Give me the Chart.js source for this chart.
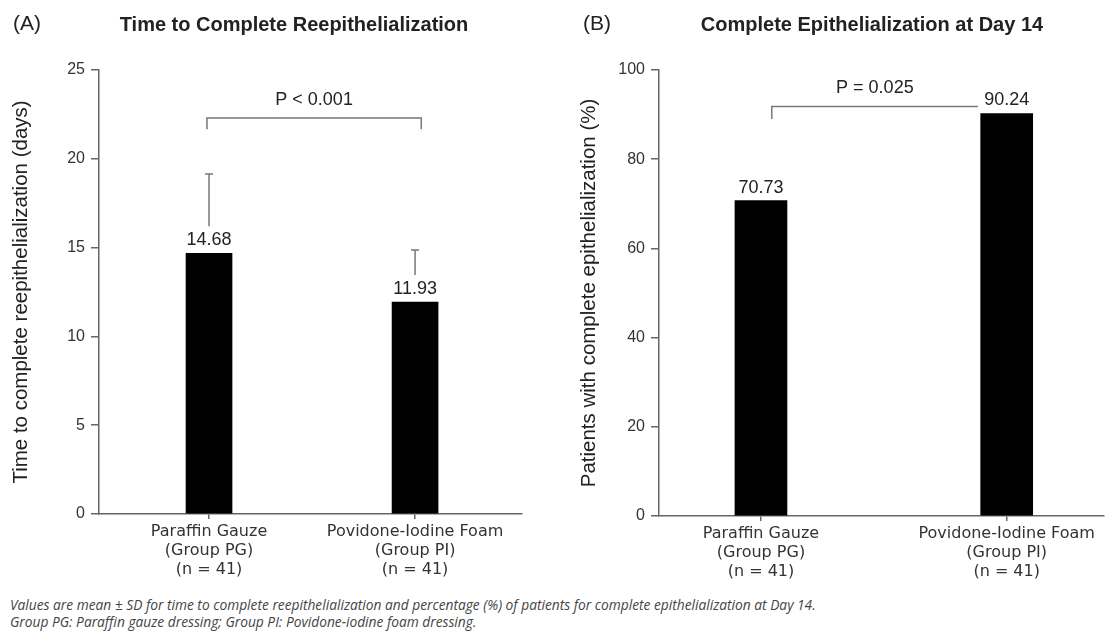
<!DOCTYPE html>
<html>
<head>
<meta charset="utf-8">
<script src="https://cdn.jsdelivr.net/npm/chart.js@4.4.1/dist/chart.umd.min.js"></script>
<style>
  html, body { margin: 0; padding: 0; background: #fff; }
  #wrap { position: relative; width: 1106px; height: 637px; overflow: hidden; }
  .panel { position: absolute; top: 0; width: 553px; height: 590px; }
  #note { position: absolute; left: 10px; top: 596px; font: italic 13.75px 'Open Sans'; line-height: 17px; color: #444; white-space: nowrap; }
</style>
</head>
<body>
<div id="wrap">
  <div class="panel" style="left:0"><canvas id="chartA" width="553" height="590"></canvas></div>
  <div class="panel" style="left:553px"><canvas id="chartB" width="553" height="590"></canvas></div>
  <div id="note">
    Values are mean ± SD for time to complete reepithelialization and percentage (%) of patients for complete epithelialization at Day 14.<br>
    Group PG: Paraffin gauze dressing; Group PI: Povidone-iodine foam dressing.
  </div>
</div>
<script>
// data
const groups = [
  ['Paraffin Gauze', '(Group PG)', '(n = 41)'],
  ['Povidone-Iodine Foam', '(Group PI)', '(n = 41)']
];
const daysMean = [14.68, 11.93];
const daysSD = [4.46, 2.93];
const healedPct = [70.73, 90.24];
const daysTicks = [0, 5, 10, 15, 20, 25];
const pctTicks = [0, 20, 40, 60, 80, 100];
const pDays = 'P < 0.001';
const pHealed = 'P = 0.025';

const AXIS = '#666';
const TXT = '#222';

// titles, value labels, error bars and the p-value bracket
const annot = {
    id: 'annot',
    afterDatasetsDraw(chart, args, o) {
        const { ctx, scales: { x, y } } = chart;
        ctx.save();
        ctx.fillStyle = TXT;
        ctx.textAlign = 'center';
        ctx.textBaseline = 'middle';

        ctx.font = '21px "Liberation Sans", Arial';
        ctx.fillText(o.letter, o.letterX, 24);
        ctx.font = 'bold 20px "Liberation Sans", Arial';
        ctx.fillText(o.title, o.titleX, 25);

        const bars = chart.getDatasetMeta(0).data;
        ctx.font = '18px "Liberation Sans", Arial';
        bars.forEach((bar, i) => {
            ctx.fillText(o.values[i].toFixed(2), bar.x, bar.y - 13);
        });

        ctx.strokeStyle = '#777';
        ctx.lineWidth = 1.5;
        if (o.sd) {
            bars.forEach((bar, i) => {
                const top = y.getPixelForValue(o.values[i] + o.sd[i]);
                ctx.beginPath();
                ctx.moveTo(bar.x, bar.y - 27);
                ctx.lineTo(bar.x, top);
                ctx.moveTo(bar.x - 4, top);
                ctx.lineTo(bar.x + 4, top);
                ctx.stroke();
            });
        }

        // bracket
        const b = o.bracket;
        const x0 = x.getPixelForValue(b.x0), x1 = x.getPixelForValue(b.x1);
        const by = y.getPixelForValue(b.y);
        ctx.beginPath();
        ctx.moveTo(x0, y.getPixelForValue(b.drop0));
        ctx.lineTo(x0, by);
        ctx.lineTo(x1, by);
        if (b.drop1 != null) ctx.lineTo(x1, y.getPixelForValue(b.drop1));
        ctx.stroke();
        ctx.fillText(b.text, (x0 + x1) / 2, y.getPixelForValue(b.textY));
        ctx.restore();
    }
};

function panel(id, cfg) {
    return new Chart(document.getElementById(id), {
        type: 'bar',
        data: {
            datasets: [{
                data: cfg.values.map((v, i) => ({ x: i + 1, y: v })),
                backgroundColor: '#000',
                borderWidth: 0,
                barThickness: cfg.barW
            }]
        },
        options: {
            responsive: false,
            animation: false,
            layout: { padding: { top: 70, right: cfg.padR, left: 0, bottom: 0 } },
            plugins: {
                legend: { display: false },
                tooltip: { enabled: false },
                annot: cfg.annot
            },
            scales: {
                x: {
                    type: 'linear',
                    offset: false,
                    min: cfg.xMin,
                    max: cfg.xMax,
                    afterBuildTicks: s => { s.ticks = groups.map((g, i) => ({ value: i + 1 })); },
                    afterFit: s => { s.height = cfg.xH; },
                    ticks: {
                        callback: (v, i) => groups[i],
                        font: { family: 'DejaVu Sans', size: 16, lineHeight: 1.2 },
                        color: '#333',
                        padding: 3,
                        maxRotation: 0,
                        autoSkip: false
                    },
                    grid: { offset: false, drawOnChartArea: false, tickLength: 5, color: AXIS, lineWidth: 1.5 },
                    border: { color: AXIS, width: 1.5 }
                },
                y: {
                    min: 0,
                    max: cfg.ticks[cfg.ticks.length - 1],
                    afterBuildTicks: s => { s.ticks = cfg.ticks.map(v => ({ value: v })); },
                    afterFit: s => { s.width = cfg.yW; },
                    ticks: {
                        font: { family: 'Liberation Sans', size: 16 },
                        color: '#333',
                        padding: 6
                    },
                    grid: { drawOnChartArea: false, tickLength: 8, color: AXIS, lineWidth: 1.5 },
                    border: { color: AXIS, width: 1.5 },
                    title: {
                        display: true,
                        text: cfg.yTitle,
                        color: TXT,
                        font: { family: 'Liberation Sans', size: 20.5 },
                        padding: { top: cfg.yTitlePad, bottom: 0 }
                    }
                }
            }
        },
        plugins: [annot]
    });
}

panel('chartA', {
    values: daysMean,
    ticks: daysTicks,
    barW: 46,
    xMin: 0.466, xMax: 2.519,
    xH: 76, yW: 99, padR: 31,
    yTitle: 'Time to complete reepithelialization (days)',
    yTitlePad: 9,
    annot: {
        letter: '(A)', letterX: 27,
        title: 'Time to Complete Reepithelialization', titleX: 294,
        values: daysMean,
        sd: daysSD,
        bracket: { x0: 0.99, x1: 2.03, y: 22.3, drop0: 21.66, drop1: 21.66, text: pDays, textY: 23.3 }
    }
});

panel('chartB', {
    values: healedPct,
    ticks: pctTicks,
    barW: 52,
    xMin: 0.585, xMax: 2.396,
    xH: 74, yW: 106, padR: 2,
    yTitle: 'Patients with complete epithelialization (%)',
    yTitlePad: 24,
    annot: {
        letter: '(B)', letterX: 44,
        title: 'Complete Epithelialization at Day 14', titleX: 319,
        values: healedPct,
        bracket: { x0: 1.044, x1: 1.883, y: 91.8, drop0: 89.0, drop1: null, text: pHealed, textY: 95.9 }
    }
});
</script>
</body>
</html>
